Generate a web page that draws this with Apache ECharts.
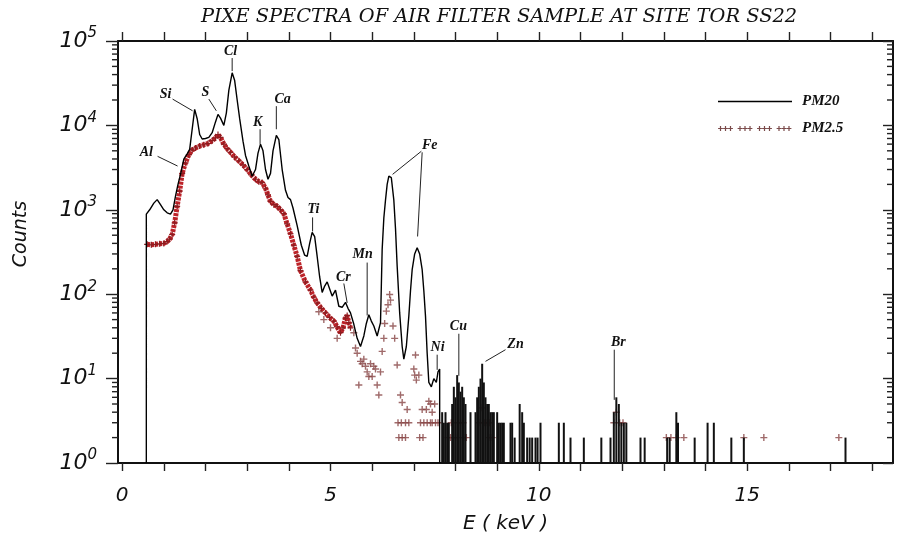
<!DOCTYPE html>
<html>
<head>
<meta charset="utf-8">
<script src="https://cdn.jsdelivr.net/npm/echarts@6/dist/echarts.min.js"></script>
<style>
  html, body { margin: 0; padding: 0; background: #fff; }
  #chart { width: 905px; height: 541px; }
</style>
</head>
<body>
<div id="chart"></div>
<script>
// PIXE spectra, counts vs X-ray energy (keV)

// PM20 spectrum, continuous part [E keV, counts]
const pm20Line = [
  [0.58,1],[0.58,890],[0.66,1000],[0.76,1200],[0.84,1320],[0.92,1150],[1.0,1000],[1.08,920],[1.16,890],
  [1.22,1000],[1.28,1450],[1.34,2000],[1.4,2630],[1.48,3980],[1.56,4600],[1.62,5200],[1.68,9000],
  [1.74,15500],[1.8,12000],[1.86,7800],[1.92,6900],[2.0,7000],[2.08,7200],[2.16,8200],[2.24,11000],
  [2.3,13500],[2.36,12200],[2.44,10000],[2.5,14000],[2.56,26000],[2.64,42000],[2.7,34000],[2.76,20000],
  [2.82,12000],[2.9,6500],[2.96,4400],[3.04,3300],[3.12,2500],[3.2,3000],[3.26,4700],[3.32,6000],
  [3.38,5000],[3.44,3000],[3.5,2300],[3.56,2700],[3.62,5000],[3.7,7600],[3.76,6800],[3.84,3000],
  [3.92,1700],[3.98,1400],[4.04,1320],[4.1,1050],[4.2,650],[4.3,380],[4.38,290],[4.44,280],[4.5,400],
  [4.56,540],[4.62,480],[4.68,280],[4.74,160],[4.8,105],[4.86,125],[4.92,140],[4.98,115],[5.04,95],
  [5.12,112],[5.2,72],[5.28,70],[5.36,80],[5.42,68],[5.48,60],[5.56,44],[5.64,30],[5.72,24],[5.8,32],
  [5.86,45],[5.92,57],[5.98,48],[6.04,42],[6.12,32],[6.2,46],[6.24,340],[6.28,800],[6.32,1300],
  [6.36,2000],[6.4,2500],[6.46,2400],[6.52,1300],[6.56,600],[6.6,215],[6.66,60],[6.72,24],[6.76,17],
  [6.82,24],[6.88,55],[6.92,110],[6.96,195],[7.02,300],[7.08,355],[7.14,300],[7.2,195],[7.24,110],
  [7.28,55],[7.32,20],[7.36,9],[7.42,8],[7.48,10],[7.54,9],[7.58,12],[7.62,13],[7.62,1]
];

// PM20 sparse channels above 7.6 keV [E keV, counts]
const pm20Spikes = [
  [7.68,4],[7.72,3],[7.76,4],[7.8,3],[7.84,3],[7.92,5],[7.96,8],[8.0,6],[8.04,11],[8.08,9],[8.12,7],
  [8.16,8],[8.2,6],[8.24,5],[8.36,4],[8.48,4],[8.52,6],[8.56,8],[8.6,10],[8.64,15],[8.68,9],[8.72,6],
  [8.76,5],[8.8,5],[8.84,4],[8.88,4],[8.92,4],[9.0,4],[9.04,3],[9.08,3],[9.12,3],[9.16,3],[9.32,3],
  [9.36,3],[9.42,2],[9.54,5],[9.6,4],[9.64,3],[9.72,2],[9.78,2],[9.84,2],[9.92,2],[9.97,2],[10.04,3],
  [10.48,3],[10.6,3],[10.76,2],[11.08,2],[11.5,2],[11.72,2],[11.8,4],[11.86,6],[11.92,5],[11.98,3],
  [12.04,3],[12.1,3],[12.44,2],[12.54,2],[13.08,2],[13.14,2],[13.3,4],[13.34,3],[13.74,2],[14.05,3],
  [14.2,3],[14.62,2],[14.92,2],[17.36,2]
];

// PM2.5 spectrum, dense continuum [E keV, counts]
const pm25Band = [
  [0.6,390],[0.7,385],[0.8,390],[0.9,395],[1.0,400],[1.08,420],[1.14,450],[1.2,510],[1.26,700],
  [1.32,1100],[1.38,1660],[1.44,2700],[1.52,3600],[1.6,4500],[1.68,5100],[1.76,5400],[1.86,5700],
  [1.96,5900],[2.06,6100],[2.16,6600],[2.24,7100],[2.3,7800],[2.36,7200],[2.44,6000],[2.52,5300],
  [2.6,4800],[2.7,4200],[2.8,3800],[2.9,3400],[3.0,3000],[3.1,2600],[3.2,2300],[3.28,2150],[3.36,2100],
  [3.44,1800],[3.5,1500],[3.56,1260],[3.64,1150],[3.72,1100],[3.8,1000],[3.88,900],[3.96,680],
  [4.04,520],[4.12,380],[4.2,280],[4.28,190],[4.4,140],[4.52,112],[4.6,92],[4.68,79],[4.78,68],
  [4.88,60],[4.98,53],[5.08,48],[5.16,41],[5.24,35],[5.3,40],[5.36,52],[5.4,56],[5.44,46],[5.48,40]
];

// PM2.5 isolated channels [E keV, counts]
const pm25Points = [
  [4.72,62],[4.84,50],[5.0,40],[5.16,30],[5.56,35],[5.6,23],[5.64,20],[5.68,8.4],[5.72,16],[5.76,15],
  [5.8,17],[5.84,14],[5.88,12],[5.92,10.6],[5.96,15],[6.0,10.6],[6.04,14],[6.08,13],[6.12,8.4],
  [6.16,6.4],[6.2,12],[6.24,21],[6.28,30],[6.3,45],[6.34,63],[6.38,75],[6.42,99],[6.44,85],[6.5,42],
  [6.54,30],[6.6,14.5],[6.68,6.4],[6.72,5.2],[6.84,4.3],[6.62,3],[6.7,3],[6.8,3],[6.88,3],[6.64,2],
  [6.72,2],[6.8,2],[7.0,13],[7.04,19],[7.02,11],[7.12,11],[7.06,9.6],[7.2,4.3],[7.3,4.3],[7.36,5.4],
  [7.44,4],[7.16,3],[7.24,3],[7.32,3],[7.44,3],[7.14,2],[7.22,2],[7.4,5],[7.5,5],[7.4,3],[7.52,3],
  [7.58,3],[7.82,2],[7.88,2],[7.94,2],[8.0,2],[8.06,2],[7.9,3],[8.06,3],[8.12,3],[8.18,3],[8.2,2],
  [8.26,2],[8.56,3],[8.64,4.5],[8.7,3],[8.76,3],[8.82,3],[8.8,2],[8.88,2],[11.8,3],[11.86,4],
  [11.94,3],[12.02,3],[13.06,2],[13.17,2],[13.3,2],[13.48,2],[14.92,2],[15.4,2],[17.2,2]
];

// Element labels: text anchor [E, counts] and leader lines [E1, c1, E2, c2]
const peakLabels = [
  { name: 'Al', at: [0.58, 4800],  leaders: [[0.85, 4300, 1.33, 3300]] },
  { name: 'Si', at: [1.04, 23500], leaders: [[1.21, 20500, 1.69, 14900]] },
  { name: 'S',  at: [2.0, 24800],  leaders: [[2.08, 20500, 2.26, 14900]] },
  { name: 'Cl', at: [2.6, 76000],  leaders: [[2.64, 62800, 2.64, 44000]] },
  { name: 'K',  at: [3.25, 10900], leaders: [[3.31, 9000, 3.31, 6000]] },
  { name: 'Ca', at: [3.85, 20500], leaders: [[3.7, 16900, 3.7, 9000]] },
  { name: 'Ti', at: [4.59, 1010],  leaders: [[4.57, 813, 4.57, 554]] },
  { name: 'Cr', at: [5.31, 157],   leaders: [[5.32, 134, 5.4, 79]] },
  { name: 'Mn', at: [5.77, 295],   leaders: [[5.88, 237, 5.88, 56]] },
  { name: 'Fe', at: [7.38, 5820],  leaders: [[7.18, 4940, 6.49, 2630], [7.2, 4800, 7.09, 483]] },
  { name: 'Ni', at: [7.57, 23.2],  leaders: [[7.56, 19.2, 7.56, 12.7]] },
  { name: 'Cu', at: [8.07, 41.2],  leaders: [[8.08, 34, 8.08, 10.8]] },
  { name: 'Zn', at: [9.44, 25.2],  leaders: [[9.2, 22, 8.72, 16]] },
  { name: 'Br', at: [11.91, 26.6], leaders: [[11.81, 22, 11.81, 5.6]] }
];

// Axis ticks
const xTickValues = [0,1,2,3,4,5,6,7,8,9,10,11,12,13,14,15,16,17,18];
const xLabelValues = [0, 5, 10, 15];
const yDecades = [1, 10, 100, 1000, 10000, 100000];
// minor log ticks: 2..9 within each decade
const yMinorValues = [];
for (let d = 0; d < yDecades.length - 1; d++) {
  for (let m = 2; m <= 9; m++) yMinorValues.push(m * yDecades[d]);
}

// plus-sign marker shapes
function plusPath(cx, cy, r, t) {
  const h = t / 2;
  return 'M' + (cx - h) + ',' + (cy - r) + 'H' + (cx + h) + 'V' + (cy - h) + 'H' + (cx + r) +
         'V' + (cy + h) + 'H' + (cx + h) + 'V' + (cy + r) + 'H' + (cx - h) + 'V' + (cy + h) +
         'H' + (cx - r) + 'V' + (cy - h) + 'H' + (cx - h) + 'Z';
}
const plusSymbol = 'path://' + plusPath(3.5, 3.5, 3.5, 1.4);
let legendPlusRow = 'M0,0M74,10';
[0, 19.5, 39, 58.5].forEach(function (g) {
  [2.5, 7.5, 12.5].forEach(function (o) { legendPlusRow += plusPath(g + o, 5, 2.4, 1.2); });
});
const legendLine = 'M0,0M74,10M0,4.2H74V5.8H0Z';

const serifLabel = 'italic bold 14px "Liberation Serif", serif';
const sansItalic = { fontFamily: 'DejaVu Sans', fontStyle: 'italic', color: '#111' };
const axisLineStyle = { color: '#111', width: 2 };
const tickStyle = { color: '#222', width: 1.4 };

const chart = echarts.init(document.getElementById('chart'), null, { renderer: 'canvas' });

// thin vertical bar for each isolated PM20 channel, drawn from the log baseline
function renderSpike(params, api) {
  const top = api.coord([api.value(0), api.value(1)]);
  const base = api.coord([api.value(0), 1]);
  return {
    type: 'rect',
    shape: { x: top[0] - 1, y: top[1], width: 2, height: base[1] - top[1] },
    style: { fill: '#111' }
  };
}

// minor log ticks: outward on the left frame, inward on the right frame
function renderMinorTick(params, api) {
  const cs = params.coordSys;
  const y = api.coord([0, api.value(0)])[1];
  const left = cs.x, right = cs.x + cs.width;
  const st = { stroke: tickStyle.color, lineWidth: tickStyle.width };
  return {
    type: 'group',
    children: [
      { type: 'line', shape: { x1: left - 6, y1: y, x2: left, y2: y }, style: st },
      { type: 'line', shape: { x1: right - 6, y1: y, x2: right, y2: y }, style: st }
    ]
  };
}

function renderLabel(params, api) {
  const p = peakLabels[params.dataIndex];
  const t = api.coord(p.at);
  const children = [{
    type: 'text', x: t[0], y: t[1],
    style: { text: p.name, font: serifLabel, fill: '#111', align: 'center', verticalAlign: 'middle' }
  }];
  p.leaders.forEach(function (l) {
    const a = api.coord([l[0], l[1]]);
    const b = api.coord([l[2], l[3]]);
    children.push({
      type: 'line',
      shape: { x1: a[0], y1: a[1], x2: b[0], y2: b[1] },
      style: { stroke: '#222', lineWidth: 1 }
    });
  });
  return { type: 'group', children: children };
}

chart.setOption({
  backgroundColor: '#fff',
  animation: false,
  title: {
    text: 'PIXE SPECTRA OF AIR FILTER SAMPLE AT SITE TOR SS22',
    left: 494, top: 2, textAlign: 'center',
    textStyle: { fontFamily: 'DejaVu Serif', fontStyle: 'italic', fontWeight: 'normal', fontSize: 19.4, color: '#111' }
  },
  legend: {
    orient: 'vertical', left: 713, top: 89,
    itemWidth: 74, itemHeight: 10, itemGap: 12,
    selectedMode: false,
    textStyle: { fontFamily: 'Liberation Serif', fontStyle: 'italic', fontWeight: 'bold', fontSize: 15, color: '#111', padding: [0, 0, 0, 5] },
    data: [
      { name: 'PM20', icon: 'path://' + legendLine, itemStyle: { color: '#000' } },
      { name: 'PM2.5', icon: 'path://' + legendPlusRow, itemStyle: { color: '#7a4a4a' } }
    ]
  },
  grid: { left: 118, right: 12, top: 41, bottom: 78, containLabel: false, outerBoundsMode: 'none' },
  xAxis: [
    {
      type: 'value', position: 'bottom', min: -0.1, max: 18.5,
      name: 'E ( keV )', nameLocation: 'middle', nameGap: 51,
      nameTextStyle: Object.assign({ fontSize: 20 }, sansItalic),
      axisLine: { show: true, onZero: false, lineStyle: axisLineStyle },
      axisTick: { show: true, inside: false, customValues: xTickValues, length: 8, lineStyle: tickStyle },
      axisLabel: Object.assign({ customValues: xLabelValues, fontSize: 20, margin: 23 }, sansItalic),
      splitLine: { show: false }
    },
    {
      type: 'value', position: 'top', min: -0.1, max: 18.5,
      axisLine: { show: true, onZero: false, lineStyle: axisLineStyle },
      axisTick: { show: true, inside: false, customValues: xTickValues, length: 9, lineStyle: tickStyle },
      axisLabel: { show: false },
      splitLine: { show: false }
    }
  ],
  yAxis: [
    {
      type: 'log', position: 'left', min: 1, max: 100000,
      name: 'Counts', nameLocation: 'middle', nameGap: 87,
      nameTextStyle: Object.assign({ fontSize: 19, padding: [0, 0, 0, 36] }, sansItalic),
      axisLine: { show: true, onZero: false, lineStyle: axisLineStyle },
      axisTick: { show: true, length: 12, lineStyle: tickStyle },
      axisLabel: {
        margin: 21,
        formatter: function (v) { return '{b|10}{s|' + Math.round(Math.log10(v)) + '}'; },
        rich: {
          b: Object.assign({ fontSize: 22, lineHeight: 30 }, sansItalic),
          s: Object.assign({ fontSize: 15, lineHeight: 12, verticalAlign: 'top' }, sansItalic)
        }
      },
      splitLine: { show: false }
    },
    {
      type: 'log', position: 'right', min: 1, max: 100000,
      axisLine: { show: true, onZero: false, lineStyle: axisLineStyle },
      axisTick: { show: true, inside: true, length: 10, lineStyle: tickStyle },
      axisLabel: { show: false },
      splitLine: { show: false }
    }
  ],
  series: [
    {
      name: 'PM2.5', type: 'line', data: pm25Band, z: 2,
      lineStyle: { color: '#bd2329', width: 5, type: [3, 1] },
      symbol: plusSymbol, symbolSize: 6, showSymbol: true, showAllSymbol: true,
      itemStyle: { color: '#8d1c20' }
    },
    {
      name: 'PM2.5', type: 'scatter', data: pm25Points, z: 2,
      symbol: plusSymbol, symbolSize: 7,
      itemStyle: { color: '#874545' }
    },
    {
      name: 'PM20', type: 'line', data: pm20Line, z: 3,
      symbol: 'none', lineStyle: { color: '#000', width: 1.4 }
    },
    {
      name: 'PM20', type: 'custom', data: pm20Spikes, z: 3,
      encode: { x: 0, y: 1 },
      renderItem: renderSpike
    },
    {
      name: 'minorTicks', type: 'custom', z: 5, clip: false, silent: true,
      data: yMinorValues.map(function (v) { return [v]; }),
      encode: { y: 0 },
      renderItem: renderMinorTick
    },
    {
      name: 'labels', type: 'custom', z: 4, clip: false,
      data: peakLabels.map(function (p) { return p.at; }),
      encode: { x: 0, y: 1 },
      renderItem: renderLabel
    }
  ]
});
</script>
</body>
</html>
